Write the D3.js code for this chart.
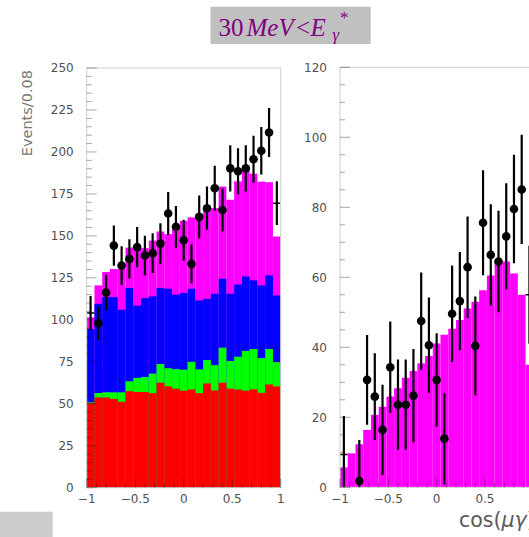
<!DOCTYPE html>
<html><head><meta charset="utf-8">
<script src="https://cdn.jsdelivr.net/npm/d3@7"></script>
<style>html,body{margin:0;padding:0;background:#fff;overflow:hidden}</style>
</head><body>
<svg id="c" width="529" height="537"></svg>
<script>
// ---------------- data ----------------
const nBins = 25;
const binWidth = 0.08;
// left panel: stacked components (per bin contribution)
const leftRed     = [50.3,53.8,53.8,52.9,51.2,57.5,57.0,57.0,56.3,62.5,60.4,59.0,57.8,58.5,56.3,62.1,57.9,62.5,59.0,58.5,57.8,58.6,56.5,61.5,60.3];
const leftGreen   = [0.5,2.6,3.0,3.9,5.6,5.9,8.4,9.0,11.7,11.2,10.8,11.6,12.5,16.5,14.2,14.0,15.1,20.9,16.5,19.5,23.7,24.0,20.7,21.1,14.5];
const leftBlue    = [43.7,53.1,56.7,56.7,49.2,55.6,43.1,47.0,46.0,45.3,47.3,44.4,45.7,43.5,41.0,36.4,42.5,41.1,40.0,43.0,44.3,40.9,43.3,43.9,39.7];
const leftMagenta = [7.0,11.0,15.0,16.8,24.3,24.0,34.2,29.7,33.2,33.6,32.5,41.0,43.0,42.5,51.5,53.0,51.0,54.9,56.0,61.5,62.7,63.5,61.8,55.5,35.1];
const leftData    = [104.0,98.0,116.2,144.2,132.3,136.3,143.3,138.3,139.7,145.4,163.3,155.4,147.4,133.3,161.3,166.5,178.4,165.4,190.2,188.5,190.2,195.6,200.7,211.6,169.5];
// right panel
const rightMagenta = [5.7,9.7,12.3,16.4,20.7,23.0,25.9,28.3,31.3,33.2,35.4,37.5,41.1,43.6,45.3,47.8,51.1,53.0,56.3,60.5,64.5,64.5,61.1,55.0,35.0];
const rightData    = [9.4,null,1.8,30.7,25.9,16.4,34.3,23.6,23.6,26.2,47.5,40.6,30.7,13.9,49.6,53.2,62.9,40.4,75.6,66.4,64.5,71.7,79.5,85.1,55.0];
const rightErr     = [11.0,null,11.7,12.8,12.4,12.9,13.1,12.9,12.9,13.3,13.9,13.6,13.3,13.0,13.8,14.0,14.5,14.1,15.0,14.5,14.5,15.2,15.5,15.6,14.0];
// axes
const xTicks = [-1,-0.5,0,0.5,1];
const xTickLabels = ["\u22121","\u22120.5","0","0.5","1"];
const leftYTicks = [0,25,50,75,100,125,150,175,200,225,250];
const rightYTicks = [0,20,40,60,80,100,120];
const yTitle = "Events/0.08";
const xTitle = ["cos(", "\u03bc\u03b3", ")"];

// ---------------- drawing ----------------
const W = 529;
const svg = d3.select("#c");
const sans = "'DejaVu Sans', sans-serif";
const binLow = d3.range(nBins).map(i => -1 + i * binWidth);

function panel(o) {
  const x = d3.scaleLinear().domain([-1, 1]).range([o.x0, o.x1]);
  const y = d3.scaleLinear().domain([0, o.yMax]).range([o.yBot, o.yTop]);
  const g = svg.append("g");
  g.append("clipPath").attr("id", o.id).append("rect")
    .attr("x", o.x0).attr("y", o.yTop).attr("width", o.x1 - o.x0).attr("height", o.yBot - o.yTop);
  const inner = g.append("g").attr("clip-path", `url(#${o.id})`);

  o.layers.forEach(L => {
    inner.append("g").selectAll("rect").data(L.tops).join("rect")
      .attr("x", (d, i) => x(binLow[i]))
      .attr("width", (d, i) => x(binLow[i] + binWidth) - x(binLow[i]))
      .attr("y", d => y(d))
      .attr("height", d => y(0) - y(d))
      .attr("fill", L.color);
  });

  const pts = o.data.map((v, i) => ({v, e: o.err[i], i})).filter(p => p.v !== null);
  const pg = inner.append("g");
  pts.forEach(p => {
    const cx = x(binLow[p.i] + binWidth / 2);
    pg.append("line").attr("x1", cx).attr("x2", cx)
      .attr("y1", y(p.v + p.e)).attr("y2", y(p.v - p.e))
      .attr("stroke", "#000").attr("stroke-width", 2.2);
    const edge = (p.i === 0 || p.i === nBins - 1);
    if (edge) {
      pg.append("line").attr("x1", x(binLow[p.i])).attr("x2", x(binLow[p.i] + binWidth))
        .attr("y1", y(p.v)).attr("y2", y(p.v)).attr("stroke", "#000").attr("stroke-width", 1.5);
    } else {
      pg.append("circle").attr("cx", cx).attr("cy", y(p.v)).attr("r", 4.3).attr("fill", "#000");
    }
  });

  g.append("rect").attr("x", o.x0).attr("y", o.yTop).attr("width", o.x1 - o.x0).attr("height", o.yBot - o.yTop)
    .attr("fill", "none").attr("stroke", "#cfcfcf").attr("stroke-width", 1);

  const tk = g.append("g").attr("stroke", "rgba(0,0,0,0.35)").attr("stroke-width", 1);
  d3.range(0, o.yMax + 0.001, o.yMinor).forEach(v => {
    const major = o.yTicks.some(t => Math.abs(t - v) < 1e-6);
    tk.append("line").attr("x1", o.x0).attr("x2", o.x0 + (major ? 10 : 5))
      .attr("y1", y(v)).attr("y2", y(v));
  });
  d3.range(-1, 1.0001, 0.1).forEach(v => {
    const major = xTicks.some(t => Math.abs(t - v) < 1e-6);
    tk.append("line").attr("x1", x(v)).attr("x2", x(v))
      .attr("y1", o.yBot).attr("y2", o.yBot - (major ? 9 : 4.5));
  });

  g.append("g").selectAll("text").data(o.yTicks).join("text")
    .attr("x", o.x0 - 13).attr("y", d => y(d)).attr("dy", "0.36em")
    .attr("text-anchor", "end").attr("font-family", sans).attr("font-size", 12)
    .attr("fill", "#505050").text(d => d);
  // only labels whose tick lies inside the window are drawn
  const xl = xTicks.map((d, i) => ({d, t: xTickLabels[i]})).filter(o2 => x(o2.d) + 4 < W);
  g.append("g").selectAll("text").data(xl).join("text")
    .attr("x", d => x(d.d)).attr("y", 503)
    .attr("text-anchor", "middle").attr("font-family", sans).attr("font-size", 12)
    .attr("fill", "#505050").text(d => d.t);
  return {x, y, g};
}

const stackTops = d3.range(nBins).map(i => {
  const r = leftRed[i], gr = r + leftGreen[i], b = gr + leftBlue[i], m = b + leftMagenta[i];
  return {r, gr, b, m};
});
panel({
  id: "clipL", x0: 86.7, x1: 280.7, yTop: 68, yBot: 487.7, yMax: 250,
  yTicks: leftYTicks, yMinor: 5,
  layers: [
    {tops: stackTops.map(d => d.m), color: "#ff00ff"},
    {tops: stackTops.map(d => d.b), color: "#0000ff"},
    {tops: stackTops.map(d => d.gr), color: "#00ff00"},
    {tops: stackTops.map(d => d.r), color: "#ff0000"}
  ],
  data: leftData, err: leftData.map(v => Math.sqrt(v))
});

panel({
  id: "clipR", x0: 340, x1: 533.3, yTop: 67.3, yBot: 487.3, yMax: 120,
  yTicks: rightYTicks, yMinor: 5,
  layers: [{tops: rightMagenta, color: "#ff00ff"}],
  data: rightData, err: rightErr
});

svg.append("text").attr("transform", "translate(31.5,70) rotate(-90)")
  .attr("text-anchor", "end").attr("font-family", sans).attr("font-size", 14.5)
  .attr("fill", "#777").text(yTitle);

const xt = svg.append("text").attr("x", 459).attr("y", 527.3)
  .attr("font-family", sans).attr("font-size", 20.5).attr("fill", "#5a5a5a");
xt.append("tspan").text(xTitle[0]);
xt.append("tspan").attr("font-style", "italic").text(xTitle[1]);
xt.append("tspan").text(xTitle[2]);

svg.append("rect").attr("x", 210.5).attr("y", 6.7).attr("width", 160.2).attr("height", 37.3).attr("fill", "#c0c0c0");
const serif = "'Liberation Serif', 'Times New Roman', serif";
const tt = svg.append("g").attr("font-family", serif).attr("fill", "#800080");
tt.append("text").attr("x", 218.5).attr("y", 35.5).attr("font-size", 25).text("30");
tt.append("text").attr("x", 246.5).attr("y", 35.5).attr("font-size", 25).attr("font-style", "italic").text("MeV");
tt.append("text").attr("x", 296).attr("y", 35.5).attr("font-size", 25).text("<");
tt.append("text").attr("x", 310.5).attr("y", 35.5).attr("font-size", 25).attr("font-style", "italic").text("E");
tt.append("text").attr("x", 332.5).attr("y", 40).attr("font-size", 17).attr("font-style", "italic").text("\u03b3");
tt.append("text").attr("x", 340).attr("y", 23).attr("font-size", 17).text("*");

svg.append("rect").attr("x", 0).attr("y", 511.7).attr("width", 52.7).attr("height", 26).attr("fill", "#cccccc");
</script>
</body></html>
